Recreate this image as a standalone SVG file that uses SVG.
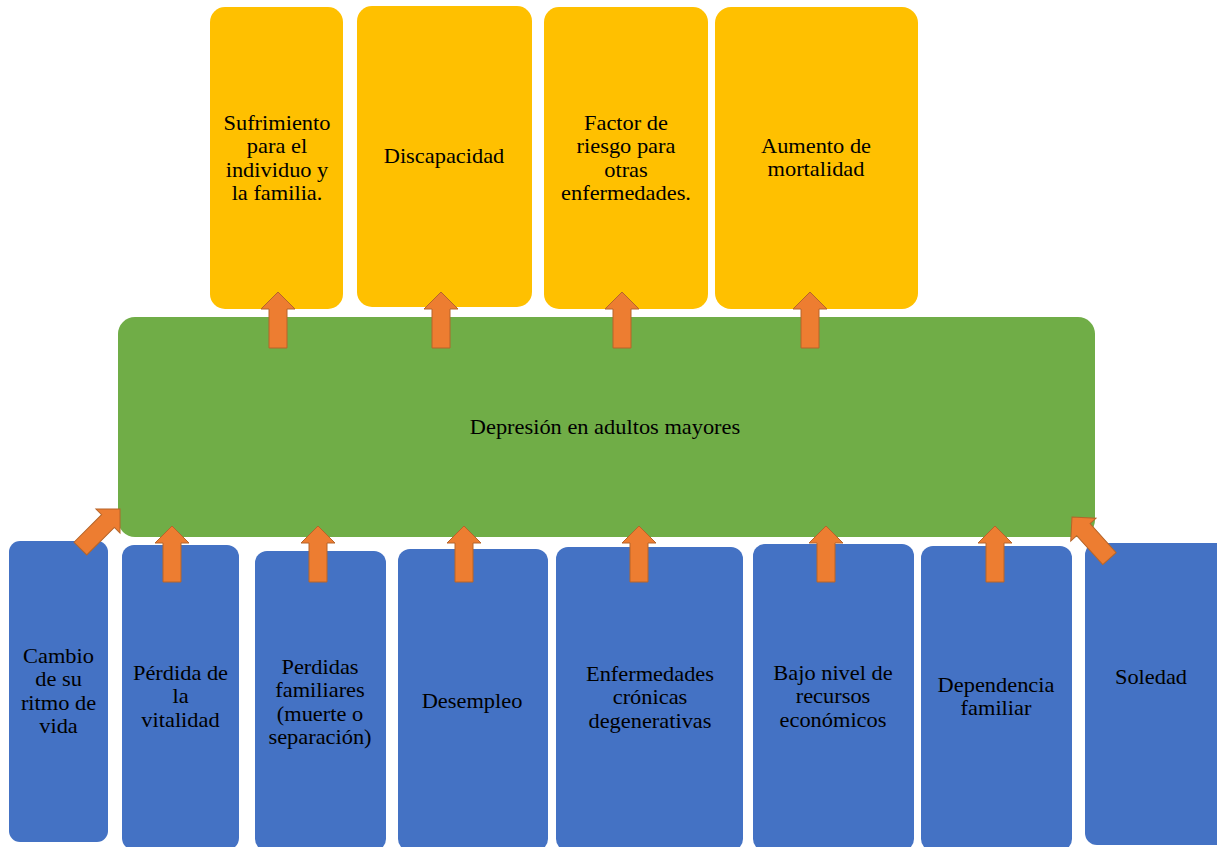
<svg xmlns="http://www.w3.org/2000/svg" width="1217" height="847" viewBox="0 0 1217 847">
<style>
.y{fill:#FFC000}
.g{fill:#70AD47}
.b{fill:#4472C4}
text{font-family:"Liberation Serif","Times New Roman",serif;font-size:20px;fill:#000;text-anchor:middle}
.arr{fill:#ED7D31;stroke:#B5652A;stroke-width:1}
</style>
<defs>
<path id="ar" d="M0,0 L17,17 L9,17 L9,56 L-9,56 L-9,17 L-17,17 Z"/>
</defs>
<rect width="1217" height="847" fill="#fff"/>
<g id="top1"><rect class="y" x="210" y="7" width="133" height="302" rx="15"/>
<g transform="translate(277,0) scale(1.12,1)"><text x="0" y="130">Sufrimiento</text><text x="0" y="153.3">para el</text><text x="0" y="176.6">individuo y</text><text x="0" y="200">la familia.</text></g></g>
<g id="top2"><rect class="y" x="357" y="6" width="175" height="301" rx="15"/>
<g transform="translate(444,0) scale(1.12,1)"><text x="0" y="163">Discapacidad</text></g></g>
<g id="top3"><rect class="y" x="544" y="7" width="164" height="302" rx="15"/>
<g transform="translate(626,0) scale(1.12,1)"><text x="0" y="130">Factor de</text><text x="0" y="153.3">riesgo para</text><text x="0" y="176.6">otras</text><text x="0" y="200">enfermedades.</text></g></g>
<g id="top4"><rect class="y" x="715" y="7" width="203" height="302" rx="16"/>
<g transform="translate(816,0) scale(1.12,1)"><text x="0" y="153">Aumento de</text><text x="0" y="176.3">mortalidad</text></g></g>
<g id="center"><rect class="g" x="118" y="317" width="977" height="220" rx="17"/>
<g transform="translate(605,0) scale(1.12,1)"><text x="0" y="434">Depresión en adultos mayores</text></g></g>
<g id="b1"><rect class="b" x="9" y="541" width="99" height="301" rx="11"/>
<g transform="translate(58.5,0) scale(1.12,1)"><text x="0" y="663">Cambio</text><text x="0" y="686.3">de su</text><text x="0" y="709.6">ritmo de</text><text x="0" y="733">vida</text></g></g>
<g id="b2"><rect class="b" x="122" y="545" width="117" height="305" rx="12"/>
<g transform="translate(180.5,0) scale(1.12,1)"><text x="0" y="680">Pérdida de</text><text x="0" y="703.3">la</text><text x="0" y="726.6">vitalidad</text></g></g>
<g id="b3"><rect class="b" x="255" y="551" width="131" height="300" rx="12"/>
<g transform="translate(320,0) scale(1.12,1)"><text x="0" y="674">Perdidas</text><text x="0" y="697.4">familiares</text><text x="0" y="720.8">(muerte o</text><text x="0" y="744.2">separación)</text></g></g>
<g id="b4"><rect class="b" x="398" y="549" width="150" height="302" rx="12"/>
<g transform="translate(472,0) scale(1.12,1)"><text x="0" y="708">Desempleo</text></g></g>
<g id="b5"><rect class="b" x="556" y="547" width="187" height="304" rx="12"/>
<g transform="translate(650,0) scale(1.12,1)"><text x="0" y="681">Enfermedades</text><text x="0" y="704.3">crónicas</text><text x="0" y="727.6">degenerativas</text></g></g>
<g id="b6"><rect class="b" x="753" y="544" width="161" height="307" rx="12"/>
<g transform="translate(833,0) scale(1.12,1)"><text x="0" y="680">Bajo nivel de</text><text x="0" y="703.3">recursos</text><text x="0" y="726.6">económicos</text></g></g>
<g id="b7"><rect class="b" x="921" y="546" width="151" height="305" rx="12"/>
<g transform="translate(996,0) scale(1.12,1)"><text x="0" y="692">Dependencia</text><text x="0" y="715.3">familiar</text></g></g>
<g id="b8"><rect class="b" x="1085" y="543" width="145" height="302" rx="12"/>
<g transform="translate(1151,0) scale(1.12,1)"><text x="0" y="684">Soledad</text></g></g>
<g id="connectors">
<use href="#ar" class="arr" transform="translate(278,292)"/>
<use href="#ar" class="arr" transform="translate(441,292)"/>
<use href="#ar" class="arr" transform="translate(622,292)"/>
<use href="#ar" class="arr" transform="translate(810,292)"/>
<use href="#ar" class="arr" transform="translate(120,509) rotate(45)"/>
<use href="#ar" class="arr" transform="translate(172,526)"/>
<use href="#ar" class="arr" transform="translate(318,526)"/>
<use href="#ar" class="arr" transform="translate(464,526)"/>
<use href="#ar" class="arr" transform="translate(639,526)"/>
<use href="#ar" class="arr" transform="translate(826,526)"/>
<use href="#ar" class="arr" transform="translate(995,526)"/>
<use href="#ar" class="arr" transform="translate(1072,517) rotate(-42)"/>
</g>
</svg>
